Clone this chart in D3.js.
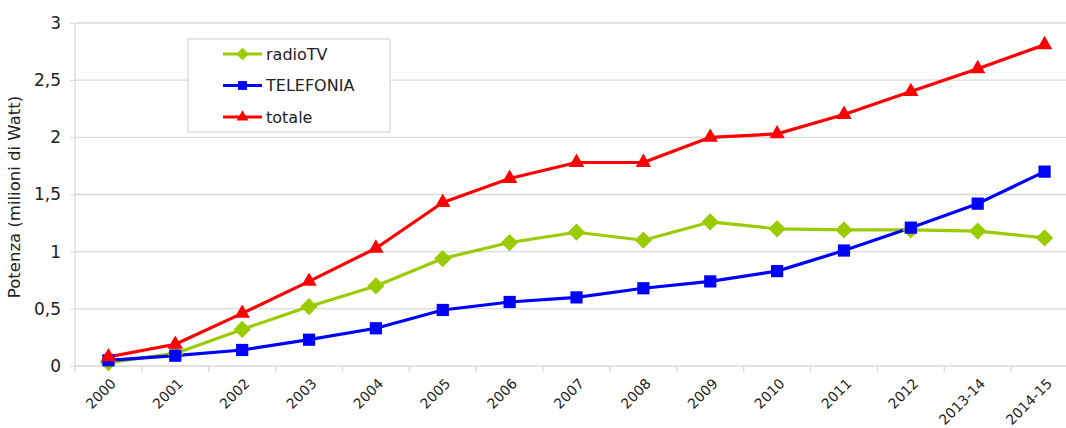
<!DOCTYPE html>
<html>
<head>
<meta charset="utf-8">
<script src="https://cdn.jsdelivr.net/npm/d3@7"></script>
<style>
  html, body { margin: 0; padding: 0; background: #fff; }
  #chart { width: 1066px; height: 428px; overflow: hidden; }
  text { font-family: "DejaVu Sans", sans-serif; fill: #222; }
</style>
</head>
<body>
<div id="chart"></div>
<script>
// Potenza installata (milioni di Watt)
const categories = ["2000", "2001", "2002", "2003", "2004", "2005", "2006", "2007",
  "2008", "2009", "2010", "2011", "2012", "2013-14", "2014-15"];
const radioTV   = [0.03, 0.11, 0.32, 0.52, 0.70, 0.94, 1.08, 1.17, 1.10, 1.26, 1.20, 1.19, 1.19, 1.18, 1.12];
const telefonia = [0.05, 0.09, 0.14, 0.23, 0.33, 0.49, 0.56, 0.60, 0.68, 0.74, 0.83, 1.01, 1.21, 1.42, 1.70];
const totale    = [0.08, 0.19, 0.46, 0.74, 1.03, 1.43, 1.64, 1.78, 1.78, 2.00, 2.03, 2.20, 2.40, 2.60, 2.81];
const yTicks = [0, 0.5, 1, 1.5, 2, 2.5, 3];

const series = [
  { name: "radioTV", values: radioTV, color: "#99cc00", symbol: d3.symbolDiamond2 },
  { name: "TELEFONIA", values: telefonia, color: "#0000ff", symbol: d3.symbolSquare2 },
  { name: "totale", values: totale, color: "#ff0000", symbol: d3.symbolTriangle2 }
];

function main() {
  const width = 1066;
  const height = 428;
  const margin = { top: 23, right: -12, bottom: 62, left: 75 };
  const innerWidth = width - margin.left - margin.right;
  const innerHeight = height - margin.top - margin.bottom;

  const svg = d3.select("#chart").append("svg")
    .attr("width", width)
    .attr("height", height);

  const g = svg.append("g")
    .attr("transform", `translate(${margin.left},${margin.top})`);

  const x = d3.scaleBand().domain(categories).range([0, innerWidth]);
  const y = d3.scaleLinear().domain([0, 3]).range([innerHeight, 0]);

  // griglia
  g.append("g").selectAll("line")
    .data(yTicks)
    .join("line")
    .attr("x1", 0).attr("x2", innerWidth)
    .attr("y1", d => y(d)).attr("y2", d => y(d))
    .attr("stroke", "#d9d9d9").attr("stroke-width", 1.3);

  // asse Y
  const yAxis = g.append("g")
    .call(d3.axisLeft(y).tickValues(yTicks).tickSize(5).tickPadding(9)
      .tickFormat(d => String(d).replace(".", ",")));
  yAxis.select(".domain").attr("stroke", "#d9d9d9").attr("stroke-width", 1.3)
    .attr("d", `M0,0V${innerHeight}`);
  yAxis.selectAll(".tick line").attr("stroke", "#d9d9d9");
  yAxis.selectAll("text").style("font-size", "17px").attr("fill", "#222");

  // asse X
  const xAxis = g.append("g")
    .attr("transform", `translate(0,${innerHeight})`)
    .call(d3.axisBottom(x).tickSize(0).tickPadding(0));
  xAxis.select(".domain").remove();
  xAxis.selectAll(".tick line").remove();
  xAxis.append("g").selectAll("line")
    .data(categories)
    .join("line")
    .attr("x1", d => x(d)).attr("x2", d => x(d))
    .attr("y1", 0).attr("y2", 6)
    .attr("stroke", "#d9d9d9").attr("stroke-width", 1.3);
  xAxis.selectAll(".tick text")
    .style("font-size", "14px")
    .attr("fill", "#222")
    .attr("text-anchor", "end")
    .attr("dy", "0.35em")
    .attr("transform", "translate(5,15) rotate(-45)");

  // titolo asse Y
  svg.append("text")
    .attr("transform", `translate(20,197) rotate(-90)`)
    .attr("text-anchor", "middle")
    .style("font-size", "16.5px")
    .text("Potenza (milioni di Watt)");

  const line = d3.line()
    .x((d, i) => x(categories[i]) + x.bandwidth() / 2)
    .y(d => y(d));

  series.forEach(s => {
    g.append("path")
      .datum(s.values)
      .attr("fill", "none")
      .attr("stroke", s.color)
      .attr("stroke-width", 3.2)
      .attr("stroke-linejoin", "round")
      .attr("d", line);
  });

  series.forEach(s => {
    const size = s.symbol === d3.symbolTriangle2 ? 170 : 190;
    g.append("g").selectAll("path")
      .data(s.values)
      .join("path")
      .attr("transform", (d, i) => `translate(${x(categories[i]) + x.bandwidth() / 2},${y(d)})`)
      .attr("d", d3.symbol().type(s.symbol).size(size))
      .attr("fill", s.color);
  });

  // legenda
  const legend = svg.append("g").attr("transform", "translate(188,39)");
  legend.append("rect")
    .attr("width", 202).attr("height", 93)
    .attr("fill", "#fff").attr("stroke", "#d9d9d9").attr("stroke-width", 1.3);
  series.forEach((s, i) => {
    const row = legend.append("g").attr("transform", `translate(0,${15 + i * 31.5})`);
    row.append("line")
      .attr("x1", 35).attr("x2", 74)
      .attr("stroke", s.color).attr("stroke-width", 3.2);
    row.append("path")
      .attr("transform", "translate(54.5,0)")
      .attr("d", d3.symbol().type(s.symbol).size(100))
      .attr("fill", s.color);
    row.append("text")
      .attr("x", 78).attr("dy", "0.35em")
      .style("font-size", "16px")
      .text(s.name);
  });
}

main();
</script>
</body>
</html>
